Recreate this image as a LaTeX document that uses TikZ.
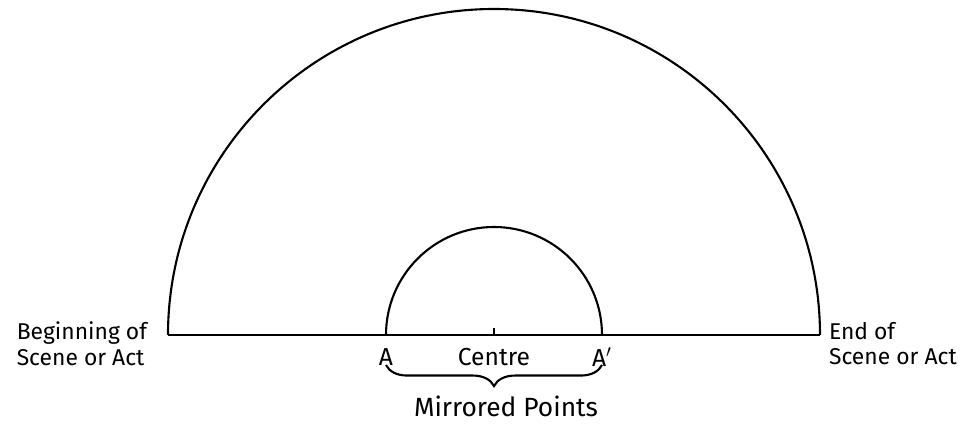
\documentclass[tikz,border=0pt]{standalone}
\usepackage{fontspec}
\setmainfont{Fira Sans}
\usetikzlibrary{positioning,decorations.pathreplacing}

\tikzset{
  lbl/.style={font=\fontsize{13}{14.5}\selectfont, inner sep=0pt, align=left},
  ptlbl/.style={font=\fontsize{14}{16}\selectfont, inner sep=0pt},
  bigarc/.style={line width=1.2pt}
}

\begin{document}
\begin{tikzpicture}[x=0.02cm,y=0.02cm,line width=1.2pt]
\useasboundingbox (0,0) rectangle (961,423);

% Baseline points
\coordinate (centre) at (494,88);
\coordinate (start) at (168,88);
\coordinate (end) at (820,88);
\coordinate (a) at (386,88);
\coordinate (ap) at (602,88);

% Semicircles
\draw[bigarc] (start) -- (end);
\draw[bigarc] (start) arc (180:0:326);
\draw[bigarc] (a) arc (180:0:108);
\draw (centre) -- ++(0,7);

% Ends
\node[lbl, left=20 of start, yshift=-5] (beginlbl) {Beginning of\\Scene or Act};
\node[lbl, right=8 of end, yshift=-5] (endlbl) {End of\\Scene or Act};

% Points
\node[ptlbl, below=12 of a] (albl) {A};
\node[ptlbl, below=12 of centre] (centrelbl) {Centre};
\node[ptlbl, below=12 of ap] (aplbl) {A$'$};

% Brace
\draw[decorate, decoration={brace, mirror, amplitude=12pt}]
  (a |- 0,58) -- (ap |- 0,58) coordinate[midway] (mid);
\node[ptlbl, font=\fontsize{15}{17}\selectfont] (mirror) at (506,17) {Mirrored Points};
\end{tikzpicture}
\end{document}
